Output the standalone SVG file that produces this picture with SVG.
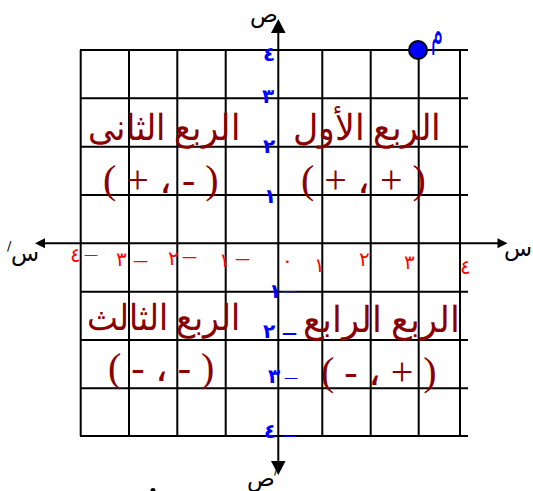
<svg xmlns="http://www.w3.org/2000/svg" width="533" height="491" viewBox="0 0 533 491">
<style>
.grid{stroke:#000;stroke-width:2;fill:none}
.axis{stroke:#000;stroke-width:2}
.head{fill:#000}
.q{font-family:"Liberation Serif",serif;fill:#8B0000;font-size:36px}
.s{font-family:"Liberation Serif",serif;fill:#8B0000;font-size:40px}
.xl{font-family:"DejaVu Sans",sans-serif;fill:#FF0000;font-size:20px}
.yl{font-family:"DejaVu Sans",sans-serif;fill:#0000FF;font-size:20px;font-weight:bold}
.ax{font-family:"DejaVu Sans",sans-serif;fill:#000;font-size:23px}
.pr{font-family:"DejaVu Sans",sans-serif;fill:#000;font-size:13px}
</style>
<rect width="533" height="491" fill="#fff"/>
<g id="grid" class="grid">
<path d="M80.7 50V436M129 50V436M177.3 50V436M225.7 50V436M322.3 50V436M370.7 50V436M418.7 50V436M460 50V436"/>
<path d="M80 50H468M80 98.3H468M80 146.7H468M80 195H468M80 291.7H468M80 340H468M80 388.3H468M80 436H468"/>
</g>
<g id="connectors">
<line class="axis" x1="44" y1="243.3" x2="499" y2="243.3"/>
<polygon class="head" points="35,243.3 45,238.3 45,248.3"/>
<polygon class="head" points="507.5,243.3 497.5,238.3 497.5,248.3"/>
<line class="axis" x1="278.3" y1="30" x2="278.3" y2="462"/>
<polygon class="head" points="278.3,19 271,33 285.6,33"/>
<polygon class="head" points="278.3,475 271,461 285.6,461"/>
</g>
<g id="axis-labels">
<text class="ax" x="250" y="22">ص</text>
<text class="ax" x="504" y="256" font-size="19">س</text>
<text class="ax" x="11" y="261">س</text>
<text class="pr" x="7" y="250">/</text>
<text class="ax" x="247" y="486" font-size="21">ص</text>
<text class="pr" x="274" y="474">/</text>
</g>
<g id="x-labels" class="xl">
<text x="70" y="262">٤<tspan x="84" font-size="14" dy="-3">—</tspan></text>
<text x="116" y="266">٣<tspan x="133" font-size="15">—</tspan></text>
<text x="168" y="265">٢<tspan x="182" font-size="15" dy="-3">—</tspan></text>
<text x="219" y="267">١<tspan x="235" font-size="15" dy="-3">—</tspan></text>
<text x="282" y="267">٠</text>
<text x="314" y="272">١</text>
<text x="359" y="266">٢</text>
<text x="404" y="269">٣</text>
<text x="460" y="274">٤</text>
</g>
<g id="y-labels" class="yl">
<text x="263" y="61">٤</text>
<text x="262" y="103">٣</text>
<text x="263" y="153">٢</text>
<text x="264" y="203">١</text>
<text x="269" y="298">١<tspan x="282" font-weight="normal" font-size="15" dy="-2">—</tspan></text>
<text x="263" y="338">٢<tspan x="282" font-size="15">—</tspan></text>
<text x="268" y="383">٣<tspan x="284" font-weight="normal" font-size="14" dy="-1">—</tspan></text>
<text x="264" y="438">٤<tspan x="283" font-weight="normal" font-size="14" dy="2">—</tspan></text>
</g>
<g id="q2">
<text class="q" x="88" y="140" textLength="152" lengthAdjust="spacingAndGlyphs">الربع الثانى</text>
<text class="s" x="103" y="193">( + ، - )</text>
</g>
<g id="q1">
<text class="q" x="293" y="140" textLength="148" lengthAdjust="spacingAndGlyphs">الربع الأول</text>
<text class="s" x="301" y="193">( + ، + )</text>
</g>
<g id="q3">
<text class="q" x="87" y="330" textLength="153" lengthAdjust="spacingAndGlyphs">الربع الثالث</text>
<text class="s" x="108" y="381">( - ، - )</text>
</g>
<g id="q4">
<text class="q" x="303" y="332" textLength="157" lengthAdjust="spacingAndGlyphs">الربع الرابع</text>
<text class="s" x="321" y="385">( - ، + )</text>
</g>
<g id="point-a">
<circle cx="418" cy="50" r="9" fill="#0000FF" stroke="#000" stroke-width="2"/>
<text x="431" y="45" font-family="DejaVu Sans,sans-serif" font-size="40" fill="#0000FF" textLength="12" lengthAdjust="spacingAndGlyphs">م</text>
</g>
<ellipse cx="153" cy="490" rx="2.5" ry="2" fill="#000"/>
</svg>
